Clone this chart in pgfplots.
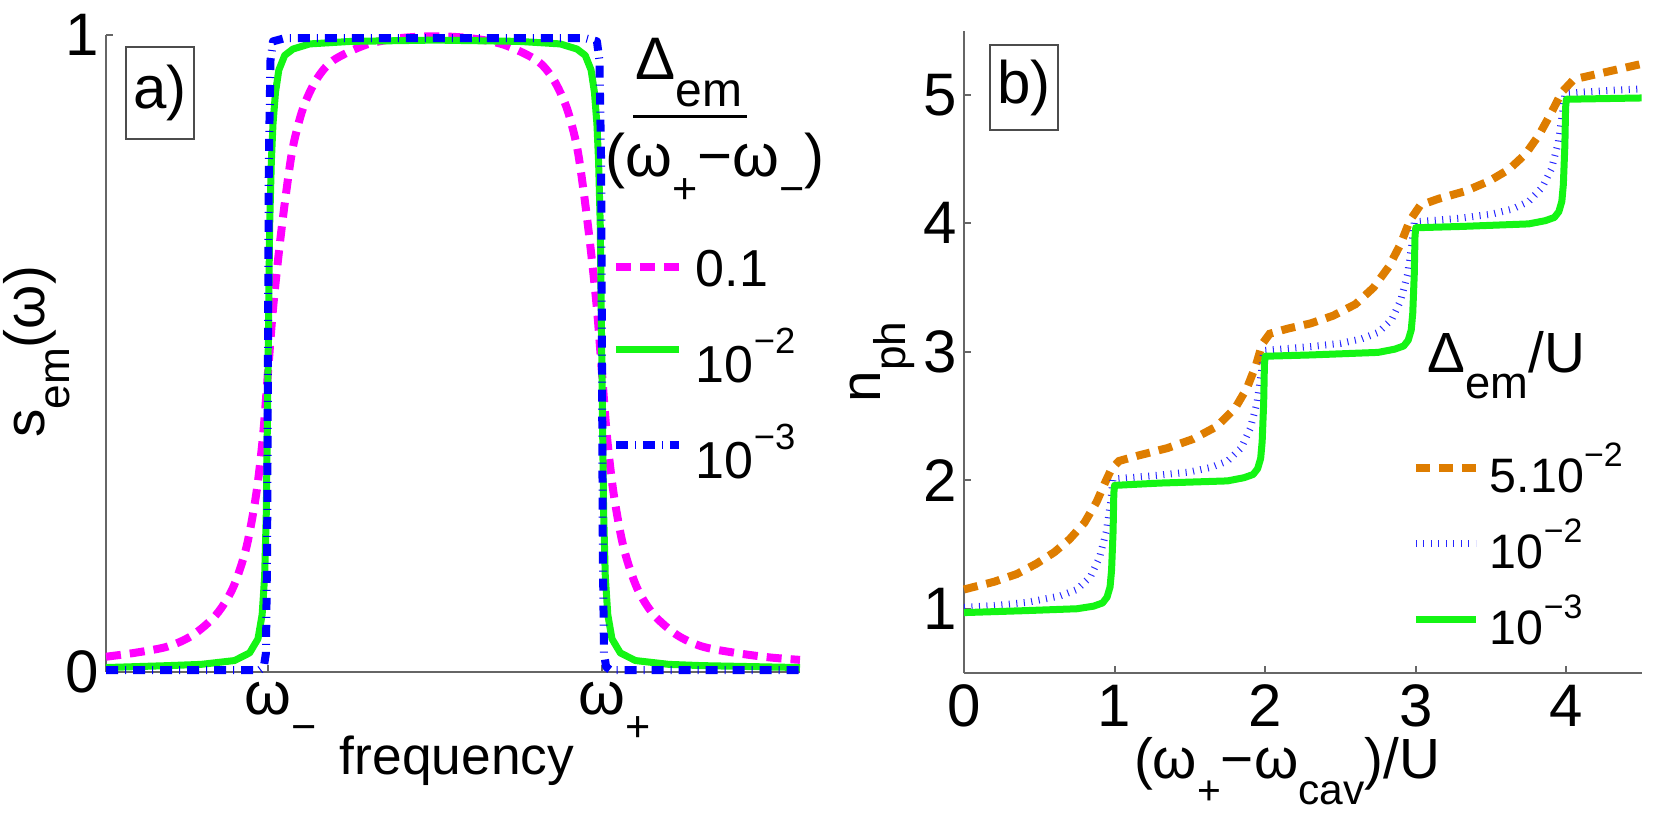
\documentclass[border=0pt]{standalone}
\usepackage{fontspec}
\setmainfont{Liberation Sans}
\usepackage{pgfplots}
\pgfplotsset{compat=1.18}

\definecolor{mag}{RGB}{255,0,255}
\definecolor{grn}{RGB}{20,245,20}
\definecolor{blu}{RGB}{0,0,255}
\definecolor{blu2}{RGB}{40,40,255}
\definecolor{org}{RGB}{222,125,0}

\makeatletter
% lowered / raised smaller text, sized from the current font
\newcommand\sub[2][0.72]{\raisebox{-0.45em}{\fontsize{\fpeval{#1*\f@size}}{1}\selectfont #2}}
\newcommand\sps[2][0.7]{\raisebox{0.55em}{\fontsize{\fpeval{#1*\f@size}}{1}\selectfont #2}}
\makeatother

\pgfplotsset{
  panel/.style={
    scale only axis, anchor=south west, clip=false,
    axis lines=left,
    axis line style={-, draw=black!60, line width=0.6pt},
    tick align=inside, major tick length=2.1pt,
    tick style={black!60, line width=0.6pt},
    tick label style={font=\fontsize{18}{20}\selectfont, text=black},
    yticklabel style={inner sep=2pt},
    /pgf/number format/assume math mode=true,
    legend cell align=left,
  },
}

\begin{document}
\begin{tikzpicture}[x=0.3pt,y=0.3pt]
\path[use as bounding box] (0,0) rectangle (1673,814);

% ---------------- a) emission spectrum ----------------
\begin{axis}[panel,
  at={(31.8pt,42.6pt)}, width=208.2pt, height=191.1pt,
  xmin=-1.97, xmax=2.186, ymin=0, ymax=1,
  xtick={-1,1}, xticklabels={ω\rlap{\sub{−}}, ω\rlap{\sub{+}}},
  ytick={0,1},
  xticklabel style={inner sep=3pt},
  legend style={at={(axis description cs:0.7291,0.6656)}, anchor=north west,
    draw=none, fill=none, inner sep=0pt, outer sep=0pt, row sep=9pt, column sep=0pt,
    font=\fontsize{15.6}{18}\selectfont,
    nodes={inner xsep=3.9pt, inner ysep=0pt, text depth=0pt}},
  legend image code/.code={\draw[#1] (0pt,0pt) -- (18.9pt,0pt);},
]
\addplot[mag, line width=2.4pt, dash pattern=on 4.5pt off 2.7pt, smooth] coordinates {
(-1.97,0.024) (-1.80,0.030) (-1.60,0.040) (-1.45,0.058) (-1.31,0.090) (-1.21,0.132)
(-1.13,0.195) (-1.07,0.280) (-1.03,0.370) (-1.00,0.470) (-0.97,0.570) (-0.93,0.670)
(-0.89,0.755) (-0.85,0.825) (-0.79,0.885) (-0.71,0.930) (-0.61,0.960) (-0.41,0.985)
(-0.21,0.995) (0.00,0.998) (0.21,0.995) (0.41,0.985) (0.61,0.960) (0.71,0.930)
(0.79,0.885) (0.85,0.825) (0.89,0.755) (0.93,0.670) (0.97,0.570) (1.00,0.470)
(1.03,0.370) (1.07,0.280) (1.13,0.195) (1.21,0.132) (1.31,0.090) (1.45,0.058)
(1.60,0.040) (1.80,0.030) (2.00,0.023) (2.186,0.019)};
\addlegendentry[text height=11.4pt]{0.1}
\addplot[grn, line width=2.1pt, line join=round] coordinates {
(-1.97,0.007) (-1.60,0.010) (-1.40,0.012) (-1.20,0.018) (-1.11,0.030) (-1.06,0.052)
(-1.035,0.09) (-1.02,0.15) (-1.01,0.25) (-1.00,0.47) (-0.99,0.70) (-0.98,0.80)
(-0.97,0.86) (-0.955,0.91) (-0.935,0.945) (-0.90,0.968) (-0.85,0.978) (-0.75,0.986)
(-0.50,0.990) (0.00,0.992) (0.50,0.990) (0.75,0.986) (0.85,0.978) (0.90,0.968)
(0.935,0.945) (0.955,0.91) (0.97,0.86) (0.98,0.80) (0.99,0.70) (1.00,0.47)
(1.01,0.25) (1.02,0.15) (1.035,0.09) (1.06,0.052) (1.11,0.030) (1.20,0.018)
(1.40,0.012) (1.60,0.010) (2.186,0.007)};
\addlegendentry[text height=19.8pt]{10\sps{−2}}
\addplot[blu, line width=2.4pt, line join=round, dash pattern=on 3.6pt off 2.1pt on 0.3pt off 2.1pt] coordinates {
(-1.97,0.003) (-1.05,0.003) (-1.025,0.008) (-1.012,0.03) (-1.005,0.2) (-1.00,0.5)
(-0.995,0.8) (-0.985,0.96) (-0.97,0.99) (-0.9,0.995) (0.9,0.995) (0.97,0.99)
(0.985,0.96) (0.995,0.8) (1.00,0.5) (1.005,0.2) (1.012,0.03) (1.025,0.008)
(1.05,0.003) (2.186,0.003)};
\addlegendentry[text height=19.8pt]{10\sps{−3}}
\end{axis}

% ---------------- b) photon number ----------------
\begin{axis}[panel,
  at={(289.2pt,42.3pt)}, width=203.3pt, height=192.75pt,
  xmin=0, xmax=4.5, ymin=0.5, ymax=5.5,
  xtick={0,1,2,3,4}, ytick={1,2,3,4,5},
  legend style={at={(axis description cs:0.6611,0.358)}, anchor=north west,
    draw=none, fill=none, inner sep=0pt, outer sep=0pt, row sep=7.8pt, column sep=0pt,
    font=\fontsize{14.5}{17}\selectfont,
    nodes={inner xsep=3pt, inner ysep=0pt, text height=15pt, text depth=0pt}},
  legend image code/.code={\draw[#1] (0pt,0pt) -- (18pt,0pt);},
]
\addplot[org, line width=2.4pt, dash pattern=on 4.2pt off 2.7pt] coordinates {
(0,1.15) (0.1,1.18) (0.2,1.21) (0.35,1.27) (0.48,1.35) (0.6,1.44) (0.7,1.54)
(0.8,1.67) (0.88,1.83) (0.94,1.99) (0.98,2.09) (1.03,2.15) (1.15,2.19) (1.35,2.25)
(1.52,2.32) (1.68,2.42) (1.8,2.56) (1.88,2.72) (1.94,2.9) (1.98,3.06) (2.03,3.14)
(2.15,3.18) (2.3,3.22) (2.45,3.28) (2.6,3.37) (2.72,3.5) (2.82,3.66) (2.9,3.84)
(2.96,4.02) (3.03,4.14) (3.15,4.19) (3.33,4.25) (3.49,4.33) (3.62,4.42) (3.73,4.54)
(3.82,4.69) (3.9,4.86) (3.97,5.02) (4.05,5.12) (4.2,5.16) (4.35,5.2) (4.5,5.24)};
\addlegendentry{5.10\sps{−2}}
\addplot[blu2, line width=2.1pt, dash pattern=on 0.3pt off 1.95pt] coordinates {
(0,1.01) (0.2,1.025) (0.42,1.05) (0.64,1.10) (0.75,1.15) (0.84,1.25) (0.9,1.40)
(0.945,1.60) (0.975,1.84) (0.99,2.01)
(1.1,2.02) (1.3,2.04) (1.5,2.065) (1.64,2.10) (1.75,2.15) (1.84,2.25) (1.9,2.40)
(1.945,2.60) (1.975,2.84) (1.99,3.01)
(2.1,3.02) (2.3,3.04) (2.5,3.065) (2.64,3.10) (2.75,3.15) (2.84,3.25) (2.9,3.40)
(2.945,3.60) (2.975,3.84) (2.99,4.01)
(3.1,4.02) (3.3,4.04) (3.5,4.07) (3.64,4.11) (3.75,4.17) (3.84,4.28) (3.9,4.42)
(3.945,4.62) (3.975,4.86) (3.99,5.01)
(4.1,5.02) (4.3,5.035) (4.5,5.045)};
\addlegendentry{10\sps{−2}}
\addplot[grn, line width=2.1pt, line join=round] coordinates {
(0,0.97) (0.4,0.985) (0.75,1.0) (0.86,1.02) (0.92,1.045) (0.95,1.09) (0.97,1.17)
(0.98,1.3) (0.99,1.6) (0.995,1.9) (1.0,1.96)
(1.3,1.978) (1.75,1.995) (1.86,2.02) (1.92,2.045) (1.95,2.09) (1.97,2.17)
(1.98,2.3) (1.99,2.6) (1.995,2.9) (2.0,2.965)
(2.3,2.975) (2.75,2.995) (2.86,3.02) (2.92,3.045) (2.95,3.09) (2.97,3.17)
(2.98,3.3) (2.99,3.6) (2.995,3.9) (3.0,3.965)
(3.3,3.975) (3.75,3.995) (3.86,4.02) (3.92,4.045) (3.95,4.09) (3.97,4.17)
(3.98,4.3) (3.99,4.6) (3.995,4.9) (4.0,4.965)
(4.5,4.975)};
\addlegendentry{10\sps{−3}}
\end{axis}

% axis titles
\node[rotate=90, anchor=base, font=\fontsize{17}{20}\selectfont] at (44,462) {s\sub[0.78]{em}(ω)};
\node[anchor=base, font=\fontsize{16}{19}\selectfont] at (457,39) {frequency};
\node[rotate=90, anchor=base, font=\fontsize{17}{20}\selectfont] at (880,452) {n\sub[0.78]{ph}};
\node[anchor=base, font=\fontsize{17}{20}\selectfont] at (1287,35) {(ω\sub{+}−ω\sub[0.75]{cav})/U};

% legend headings
\node[anchor=base west, inner sep=0pt, font=\fontsize{18}{21}\selectfont] at (635,734) {Δ\sub[0.8]{em}};
\node[inner sep=0pt] at (690,697) {\rule{34.2pt}{0.9pt}};
\node[anchor=base west, inner sep=0pt, font=\fontsize{18}{21}\selectfont] at (605,637) {(ω\sub{+}−ω\sub{−})};
\node[anchor=base west, inner sep=0pt, font=\fontsize{17}{20}\selectfont] at (1427,441) {Δ\sub[0.8]{em}/U};

% panel tags
\node[draw=black!70, line width=0.5pt, minimum width=20.4pt, minimum height=27.6pt, inner sep=0pt,
      font=\fontsize{18}{20}\selectfont] at (159.7,721) {a)};
\node[draw=black!70, line width=0.5pt, minimum width=20.4pt, minimum height=25.5pt, inner sep=0pt,
      font=\fontsize{18}{20}\selectfont] at (1023.9,726.5) {b)};
\end{tikzpicture}
\end{document}
